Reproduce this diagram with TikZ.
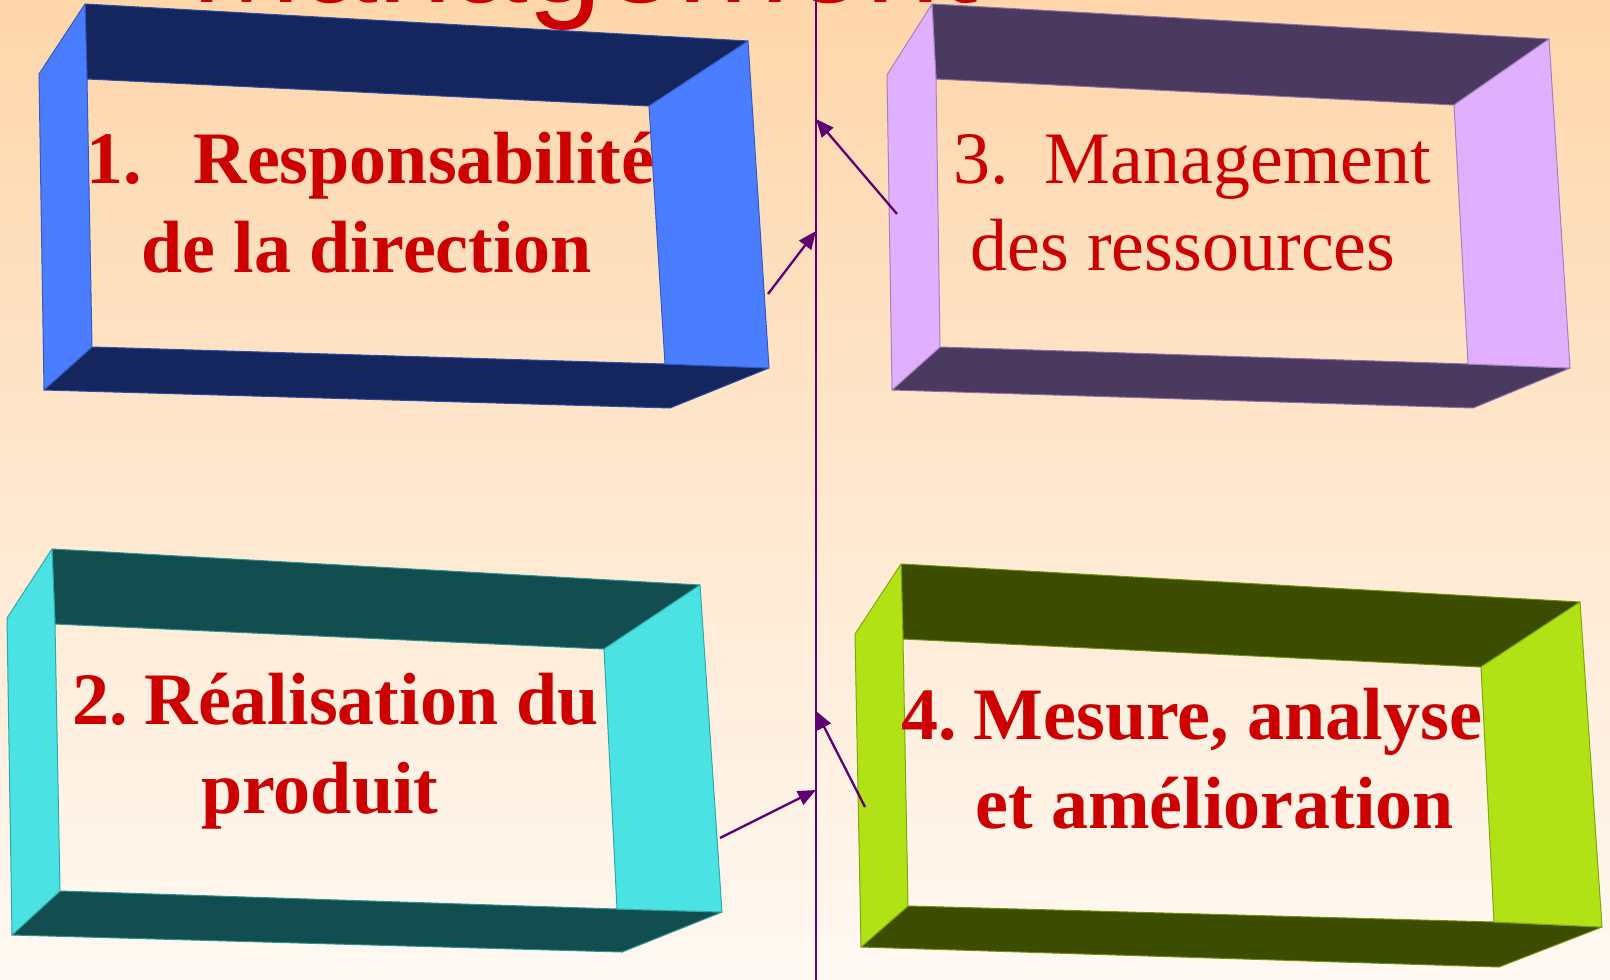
\documentclass[tikz,border=0pt]{standalone}
\usepackage{fontspec}
\setmainfont{Liberation Serif}
\newfontfamily\titlefont{Liberation Sans}
\usetikzlibrary{arrows.meta}

\definecolor{txtred}{RGB}{204,0,0}
\definecolor{linepurple}{RGB}{94,0,112}
\definecolor{bluelight}{RGB}{74,125,255}
\definecolor{bluedark}{RGB}{21,37,94}
\definecolor{lilaclight}{RGB}{224,176,255}
\definecolor{lilacdark}{RGB}{74,58,96}
\definecolor{cyanlight}{RGB}{74,226,226}
\definecolor{cyandark}{RGB}{18,78,80}
\definecolor{limelight}{RGB}{176,226,22}
\definecolor{limedark}{RGB}{61,77,0}
\definecolor{bgtop}{RGB}{254,214,170}
\definecolor{bgbot}{RGB}{255,249,243}

\tikzset{
  boxline/.style={line width=2.3pt, draw=linepurple, -{Triangle[length=18pt,width=15pt]}},
  boldtext/.style={anchor=base west, inner sep=0pt, text=txtred, font=\fontsize{74}{89}\selectfont\bfseries},
  plaintext/.style={anchor=base west, inner sep=0pt, text=txtred, font=\fontsize{74}{89}\selectfont}
}

% faces of one bevelled frame: name, light colour, dark colour
\newcommand\bevelbox[3]{
  \filldraw[fill=#3, draw=#2!45!#3, line width=1pt, line join=round]
    (#1-p1) -- (#1-p2) -- (#1-i2) -- (#1-i1) -- cycle;
  \filldraw[fill=#3, draw=#2!45!#3, line width=1pt, line join=round]
    (#1-p5) -- (#1-i4) -- (#1-i3) -- (#1-p3) -- (#1-p4) -- cycle;
  \filldraw[fill=#2, draw=#2!60!#3, line width=1pt, line join=round]
    (#1-p6) -- (#1-p1) -- (#1-i1) -- (#1-i4) -- (#1-p5) -- cycle;
  \filldraw[fill=#2, draw=#2!60!#3, line width=1pt, line join=round]
    (#1-p2) -- (#1-p3) -- (#1-i3) -- (#1-i2) -- cycle;
}

\begin{document}
\begin{tikzpicture}[x=1pt, y=-1pt]
  \useasboundingbox (0,0) rectangle (1610,980);
  \clip (0,0) rectangle (1610,980);
  \shade[top color=bgtop, bottom color=bgbot] (0,0) rectangle (1610,980);

  \node[anchor=base west, inner sep=0pt, text=txtred,
        font=\titlefont\fontsize{135}{140}\selectfont] (title) at (190,2) {Management};

  % responsabilite
  \coordinate (resp-p1) at (85,4);    \coordinate (resp-p2) at (748,41);
  \coordinate (resp-p3) at (769,368); \coordinate (resp-p4) at (670,408);
  \coordinate (resp-p5) at (44,390);  \coordinate (resp-p6) at (39,74);
  \coordinate (resp-i1) at (87,79);   \coordinate (resp-i2) at (649,106);
  \coordinate (resp-i3) at (665,364); \coordinate (resp-i4) at (92,347);
  \bevelbox{resp}{bluelight}{bluedark}

  % ressources
  \coordinate (res-p1) at (932,4);    \coordinate (res-p2) at (1549,39);
  \coordinate (res-p3) at (1570,368); \coordinate (res-p4) at (1473,408);
  \coordinate (res-p5) at (892,390);  \coordinate (res-p6) at (887,75);
  \coordinate (res-i1) at (936,79);   \coordinate (res-i2) at (1454,105);
  \coordinate (res-i3) at (1468,364); \coordinate (res-i4) at (940,347);
  \bevelbox{res}{lilaclight}{lilacdark}

  % realisation
  \coordinate (real-p1) at (52,549);  \coordinate (real-p2) at (700,585);
  \coordinate (real-p3) at (722,912); \coordinate (real-p4) at (622,952);
  \coordinate (real-p5) at (12,935);  \coordinate (real-p6) at (7,618);
  \coordinate (real-i1) at (55,624);  \coordinate (real-i2) at (604,649);
  \coordinate (real-i3) at (617,909); \coordinate (real-i4) at (60,891);
  \bevelbox{real}{cyanlight}{cyandark}

  % mesure
  \coordinate (mes-p1) at (901,564);  \coordinate (mes-p2) at (1580,602);
  \coordinate (mes-p3) at (1602,927); \coordinate (mes-p4) at (1499,967);
  \coordinate (mes-p5) at (861,947);  \coordinate (mes-p6) at (855,634);
  \coordinate (mes-i1) at (903,639);  \coordinate (mes-i2) at (1481,667);
  \coordinate (mes-i3) at (1494,922); \coordinate (mes-i4) at (908,906);
  \bevelbox{mes}{limelight}{limedark}

  \node[boldtext] (resp1) at (86,183) {1.\hspace{52pt}Responsabilité};
  \node[boldtext] (resp2) at (141,272) {de la direction};
  \node[plaintext] (res1) at (953,183) {3.\hspace{36pt}Management};
  \node[plaintext] (res2) at (970,270) {des ressources};
  \node[boldtext] (real1) at (72,724) {2.\hspace{17pt}Réalisation du};
  \node[boldtext] (real2) at (201,813) {produit};
  \node[boldtext] (mes1) at (901,739) {4.\hspace{17pt}Mesure, analyse};
  \node[boldtext] (mes2) at (975,828) {et amélioration};

  % axe central
  \coordinate (top) at (816,0);
  \coordinate (bot) at (816,980);
  \draw[line width=2pt, linepurple] (top) -- (bot);

  \coordinate (from1) at (768,294); \coordinate (to1) at (816,231);
  \coordinate (from3) at (897,214); \coordinate (to3) at (816,119);
  \coordinate (from2) at (720,838); \coordinate (to2) at (816,790);
  \coordinate (from4) at (865,807); \coordinate (to4) at (816,711);
  \draw[boxline] (from1) -- (to1);
  \draw[boxline] (from3) -- (to3);
  \draw[boxline] (from2) -- (to2);
  \draw[boxline] (from4) -- (to4);
\end{tikzpicture}
\end{document}
